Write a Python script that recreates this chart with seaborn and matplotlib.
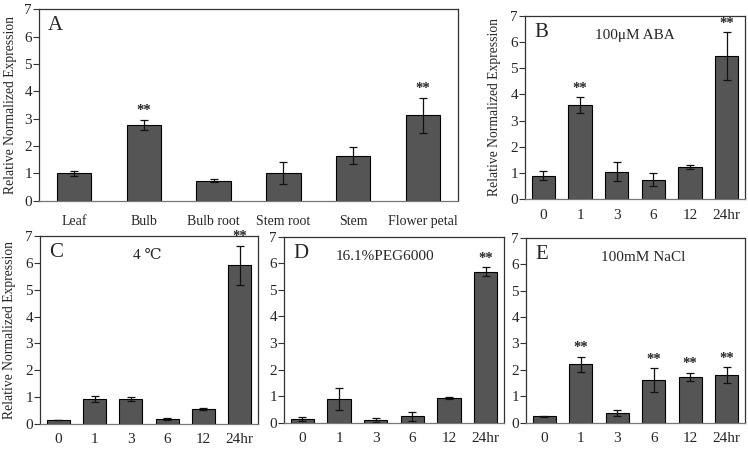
import matplotlib
matplotlib.use("Agg")
import matplotlib.pyplot as plt
import matplotlib.transforms as mtransforms
import seaborn as sns
import pandas as pd
import numpy as np

sns.set_style("white")
plt.rcParams['font.family'] = ['Liberation Serif', 'DejaVu Serif']

# ---- data ----
tissues = ["Leaf", "Bulb", "Bulb root", "Stem root", "Stem", "Flower petal"]
tissue_vals = [1.0, 2.78, 0.73, 1.0, 1.64, 3.13]
tissue_err = [0.1, 0.18, 0.05, 0.4, 0.31, 0.64]
tissue_sig = [False, True, False, False, False, True]

times = ["0", "1", "3", "6", "12", "24hr"]

aba_vals = [0.89, 3.59, 1.04, 0.74, 1.22, 5.46]
aba_err = [0.18, 0.3, 0.36, 0.25, 0.08, 0.91]
aba_sig = [False, True, False, False, False, True]

cold_vals = [0.16, 0.93, 0.93, 0.19, 0.57, 5.9]
cold_err = [0.0, 0.11, 0.08, 0.03, 0.04, 0.72]
cold_sig = [False, False, False, False, False, True]

peg_vals = [0.14, 0.89, 0.10, 0.24, 0.92, 5.68]
peg_err = [0.09, 0.4, 0.06, 0.18, 0.04, 0.17]
peg_sig = [False, False, False, False, False, True]

nacl_vals = [0.24, 2.21, 0.36, 1.62, 1.73, 1.80]
nacl_err = [0.03, 0.29, 0.12, 0.44, 0.15, 0.3]
nacl_sig = [False, True, False, True, True, True]

W, H = 748, 454
fig = plt.figure(figsize=(W / 100, H / 100), dpi=100)


def make_ax(l, r, t, b):
    return fig.add_axes([l / W, (H - b) / H, (r - l) / W, (b - t) / H])


BAR = "#555555"


def panel(ax, cats, vals, errs, sigs, letter, title, width, tick_fs, xpad,
          ylabel_x=None, title_x=0.5):
    df = pd.DataFrame({"cat": cats, "val": vals})
    sns.barplot(data=df, x="cat", y="val", color=BAR, edgecolor="black",
                linewidth=0.8, width=width, saturation=1, ax=ax)
    xs = np.arange(len(cats))
    ax.errorbar(xs, vals, yerr=errs, fmt="none", ecolor="#111111",
                elinewidth=0.9, capsize=3, capthick=0.9)
    for x, v, e, s in zip(xs, vals, errs, sigs):
        if s:
            ax.text(x, v + e + 0.1, "**", ha="center", va="bottom",
                    fontsize=10.5, fontweight="bold")
    ax.set_ylim(0, 7)
    ax.set_yticks(range(8))
    ax.set_xlim(-0.5, len(cats) - 0.5)
    ax.set_xlabel("")
    ax.set_ylabel("")
    ax.tick_params(axis="y", which="both", left=True, direction="out",
                   length=4, width=0.8, labelsize=11, pad=1, color="#333333")
    ax.tick_params(axis="x", bottom=False, labelsize=tick_fs, pad=xpad)
    for sp in ax.spines.values():
        sp.set_color("#333333")
        sp.set_linewidth(0.9)
    ax.spines["bottom"].set_color("#777777")
    off = mtransforms.offset_copy(ax.transAxes, fig=fig, x=9 * 0.72, y=-7 * 0.72,
                                  units="points")
    ax.text(0, 1, letter, transform=off, fontsize=15, ha="left", va="top")
    if title:
        ax.text(title_x, 0.93, title, transform=ax.transAxes, fontsize=11,
                ha="center", va="top")
    if ylabel_x is not None:
        ax.set_ylabel("Relative Normalized Expression", fontsize=9.8)
        ax.yaxis.set_label_coords(ylabel_x, 0.5)


axA = make_ax(39, 458, 9.3, 200.7)
panel(axA, tissues, tissue_vals, tissue_err, tissue_sig, "A", None, 0.49, 10, 7,
      ylabel_x=(17 - 39) / 419)

axB = make_ax(525, 745, 16, 199)
panel(axB, times, aba_vals, aba_err, aba_sig, "B", "100μM ABA", 0.64, 11, 3.5,
      ylabel_x=(501 - 525) / 220, title_x=(635 - 525) / 220)

axC = make_ax(40, 258, 235.7, 424.3)
panel(axC, times, cold_vals, cold_err, cold_sig, "C", "4 ℃", 0.64, 11, 3,
      ylabel_x=(16 - 40) / 218, title_x=(147 - 40) / 218)

axD = make_ax(284, 504, 236.7, 422.7)
panel(axD, times, peg_vals, peg_err, peg_sig, "D", "16.1%PEG6000", 0.64, 11, 3,
      title_x=(385 - 284) / 220)

axE = make_ax(526, 745, 237.7, 422.7)
panel(axE, times, nacl_vals, nacl_err, nacl_sig, "E", "100mM NaCl", 0.64, 11, 3,
      title_x=(643 - 526) / 219)

fig.savefig("out.png", dpi=100, facecolor="white")
